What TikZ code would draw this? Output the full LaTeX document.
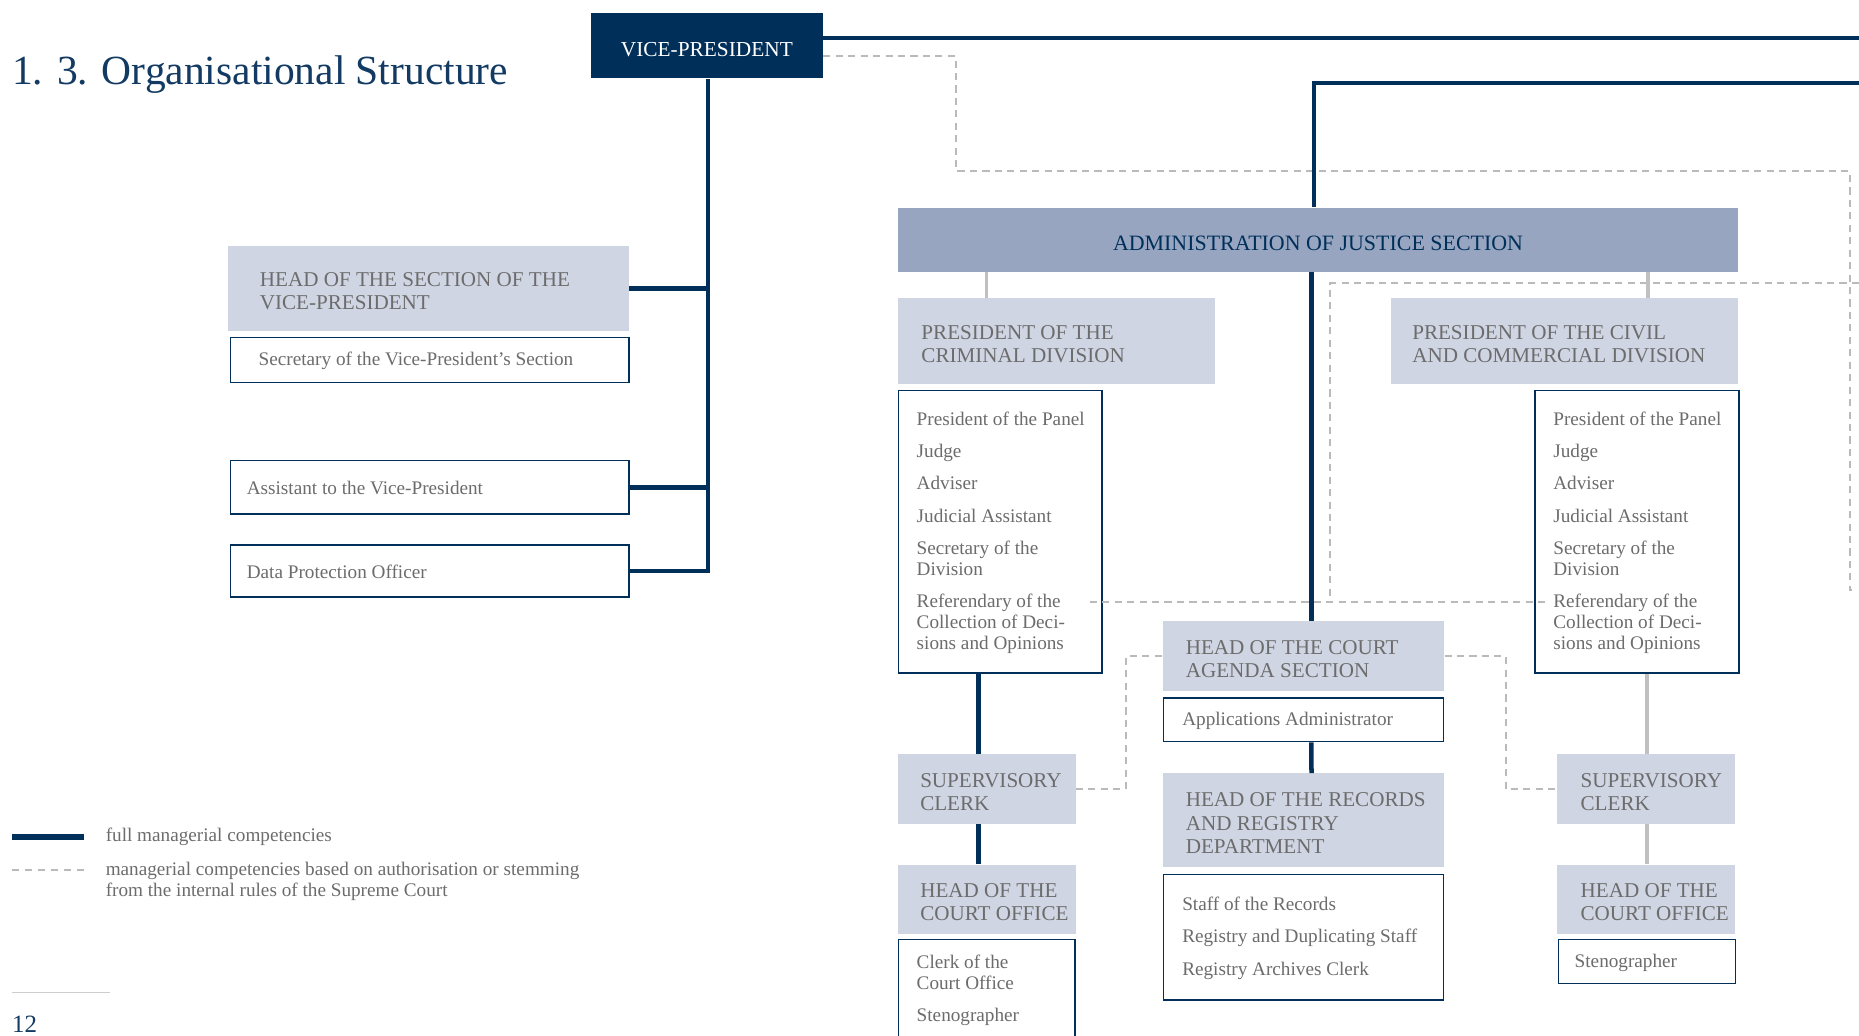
\documentclass[tikz,border=0pt]{standalone}
\usepackage{fontspec}
\setmainfont{Liberation Serif}
\definecolor{navy}{RGB}{0,48,89}
\definecolor{titleblue}{RGB}{18,58,98}
\definecolor{lightfill}{RGB}{207,213,227}
\definecolor{adminfill}{RGB}{151,165,193}
\definecolor{txtgray}{RGB}{108,108,108}
\definecolor{dashgray}{RGB}{186,186,186}
\definecolor{congray}{RGB}{192,192,192}
\definecolor{rulegray}{RGB}{205,205,205}
\begin{document}
\begin{tikzpicture}[x=1pt,y=-1pt,
  navyline/.style={draw=navy,line width=3.8pt},
  graycon/.style={draw=congray,line width=3pt},
  dashcon/.style={draw=dashgray,line width=1.7pt,dash pattern=on 6pt off 4.5pt},
  hdrbox/.style={fill=lightfill,draw=none,anchor=north west,inner sep=0pt},
  lstbox/.style={fill=white,draw=navy,line width=1.2pt,anchor=north west,inner sep=0pt},
  hdrtxt/.style={text=txtgray,font=\fontsize{17.8}{19.5}\selectfont,align=left,inner sep=0pt,anchor=west,yshift=-2.5pt},
  lsttxt/.style={text=txtgray,font=\fontsize{16.2}{17.7}\selectfont,align=left,inner sep=0pt,anchor=west,yshift=-0.8pt},
]
\useasboundingbox (0,0) rectangle (1568,873);

% title
\node[anchor=base west,inner sep=0pt,text=titleblue,font=\fontsize{35}{40}\selectfont] (title) at (10,71) {1. 3. Organisational Structure};

% vice-president
\node[fill=navy,anchor=north west,minimum width=196pt,minimum height=55pt,inner sep=0pt,text=white,font=\fontsize{18}{20}\selectfont] (vp) at (498,11) {\raisebox{-3pt}[\height][\depth]{VICE-PRESIDENT}};

% left branch
\node[hdrbox,minimum width=338pt,minimum height=72pt] (hsec) at (192,207) {};
\node[hdrtxt] (hsecT) at ([xshift=27pt]hsec.west) {HEAD OF THE SECTION OF THE\\VICE-PRESIDENT};
\node[lstbox,minimum width=336pt,minimum height=38pt] (sec) at (194,284) {};
\node[lsttxt] (secT) at ([xshift=24pt]sec.west) {Secretary of the Vice-President’s Section};
\node[lstbox,minimum width=336pt,minimum height=45pt] (asst) at (194,388) {};
\node[lsttxt] (asstT) at ([xshift=14pt]asst.west) {Assistant to the Vice-President};
\node[lstbox,minimum width=336pt,minimum height=44pt] (dpo) at (194,459) {};
\node[lsttxt] (dpoT) at ([xshift=14pt]dpo.west) {Data Protection Officer};

% administration
\node[fill=adminfill,anchor=north west,minimum width=709pt,minimum height=54pt,inner sep=0pt,text=navy,font=\fontsize{18.5}{21}\selectfont] (admin) at (757,175) {\raisebox{-3pt}[\height][\depth]{ADMINISTRATION OF JUSTICE SECTION}};

% criminal division
\node[hdrbox,minimum width=268pt,minimum height=73pt] (crim) at (757,251) {};
\node[hdrtxt] (crimT) at ([xshift=20pt]crim.west) {PRESIDENT OF THE\\CRIMINAL DIVISION};
\node[lstbox,minimum width=172pt,minimum height=238pt] (crimL) at (757,329) {};
\node[lsttxt] (crimLT) at ([xshift=16pt]crimL.west) {President of the Panel\\[9.6pt]Judge\\[9.6pt]Adviser\\[9.6pt]Judicial Assistant\\[9.6pt]Secretary of the\\Division\\[9.6pt]Referendary of the\\Collection of Deci-\\sions and Opinions};

% civil division
\node[hdrbox,minimum width=293pt,minimum height=73pt] (civ) at (1173,251) {};
\node[hdrtxt] (civT) at ([xshift=18pt]civ.west) {PRESIDENT OF THE CIVIL\\AND COMMERCIAL DIVISION};
\node[lstbox,minimum width=172pt,minimum height=238pt] (civL) at (1294,329) {};
\node[lsttxt] (civLT) at ([xshift=16pt]civL.west) {President of the Panel\\[9.6pt]Judge\\[9.6pt]Adviser\\[9.6pt]Judicial Assistant\\[9.6pt]Secretary of the\\Division\\[9.6pt]Referendary of the\\Collection of Deci-\\sions and Opinions};

% centre column
\node[hdrbox,minimum width=237pt,minimum height=59pt] (agenda) at (981,524) {};
\node[hdrtxt] (agendaT) at ([xshift=19pt]agenda.west) {HEAD OF THE COURT\\AGENDA SECTION};
\node[lstbox,minimum width=236pt,minimum height=37pt] (app) at (981,588) {};
\node[lsttxt] (appT) at ([xshift=16pt]app.west) {Applications Administrator};
\node[hdrbox,minimum width=237pt,minimum height=79pt] (rec) at (981,652) {};
\node[hdrtxt] (recT) at ([xshift=19pt]rec.west) {HEAD OF THE RECORDS\\AND REGISTRY\\DEPARTMENT};
\node[lstbox,minimum width=236pt,minimum height=106pt] (recL) at (981,737) {};
\node[lsttxt] (recLT) at ([xshift=16pt]recL.west) {Staff of the Records\\[9.6pt]Registry and Duplicating Staff\\[9.6pt]Registry Archives Clerk};

% left lower column
\node[hdrbox,minimum width=150pt,minimum height=59pt] (sup1) at (757,636) {};
\node[hdrtxt] (sup1T) at ([xshift=19pt]sup1.west) {SUPERVISORY\\CLERK};
\node[hdrbox,minimum width=150pt,minimum height=59pt] (hco1) at (757,729) {};
\node[hdrtxt] (hco1T) at ([xshift=19pt]hco1.west) {HEAD OF THE\\COURT OFFICE};
\node[lstbox,minimum width=149pt,minimum height=84pt] (hco1L) at (757,792) {};
\node[lsttxt] (hco1LT) at ([xshift=16pt]hco1L.west) {Clerk of the\\Court Office\\[9.6pt]Stenographer};

% right lower column
\node[hdrbox,minimum width=150pt,minimum height=59pt] (sup2) at (1313,636) {};
\node[hdrtxt] (sup2T) at ([xshift=20pt]sup2.west) {SUPERVISORY\\CLERK};
\node[hdrbox,minimum width=150pt,minimum height=59pt] (hco2) at (1313,729) {};
\node[hdrtxt] (hco2T) at ([xshift=20pt]hco2.west) {HEAD OF THE\\COURT OFFICE};
\node[lstbox,minimum width=149pt,minimum height=37pt] (sten2) at (1314,792) {};
\node[lsttxt] (sten2T) at ([xshift=14pt]sten2.west) {Stenographer};

% free-end coordinates
\coordinate (r1) at (1568,32);
\coordinate (r2) at (1568,70);
\coordinate (dA) at (806,144);
\coordinate (dB) at (1560,144);
\coordinate (dC) at (1560,498);
\coordinate (dD) at (1566,498);
\coordinate (eR) at (1568,239);
\coordinate (eJ) at (1122,239);
\coordinate (c1) at ([xshift=-59pt]crim.north);
\coordinate (c2) at ([xshift=70.5pt]civ.north);
\coordinate (c3) at ([xshift=-7pt]sup1.north);
\coordinate (c4) at ([xshift=-7pt]hco1.north);
\coordinate (c5) at ([xshift=1pt]sup2.north);
\coordinate (c6) at ([xshift=1pt]hco2.north);
\coordinate (ref1) at ([xshift=-11pt,yshift=-59pt]crimL.east);
\coordinate (ref2) at ([xshift=10pt,yshift=-59pt]civL.west);
\coordinate (d0) at ([yshift=-8.5pt]vp.east);

% dashed connectors (drawn first, under solid ones)
\draw[dashcon] (d0) -| (dA) -- (dB) -- (dC) -- (dD);
\draw[dashcon] (eR) -- (eJ) -- (eJ |- ref1);
\draw[dashcon] (ref1) -- (ref2);
\draw[dashcon] (sup1.east) -- ++(42,0) |- (agenda.west);
\draw[dashcon] (agenda.east) -- ++(52,0) |- (sup2.west);

% solid navy connectors
\draw[navyline] (vp.east |- r1) -- (r1);
\draw[navyline] (r2) -| ([xshift=-3.5pt]admin.north);
\draw[navyline] ([xshift=-5.5pt]admin.south) -- ([xshift=6.5pt]agenda.north);
\draw[navyline] ([xshift=1pt]vp.south) |- (dpo.east);
\draw[navyline] (hsec.east) -- (hsec.east -| vp.south);
\draw[navyline] (asst.east) -- (asst.east -| vp.south);
\draw[navyline] (c3 |- crimL.south) -- (c3);
\draw[navyline] (c4 |- sup1.south) -- (c4);
\draw[navyline] ([xshift=6.5pt]app.south) -- ([xshift=6.5pt]rec.north);

% solid gray connectors
\draw[graycon] (c1 |- admin.south) -- (c1);
\draw[graycon] (c2 |- admin.south) -- (c2);
\draw[graycon] (c5 |- civL.south) -- (c5);
\draw[graycon] (c6 |- sup2.south) -- (c6);

% legend
\coordinate (l1a) at (10,706);
\coordinate (l1b) at (71,706);
\coordinate (l2a) at (10,734);
\coordinate (l2b) at (71,734);
\draw[draw=navy,line width=4.5pt] (l1a) -- (l1b);
\node[lsttxt] (leg1) at (89,705) {full managerial competencies};
\draw[draw=dashgray,line width=1.6pt,dash pattern=on 6pt off 5pt] (l2a) -- (l2b);
\node[lsttxt] (leg2) at (89,743) {managerial competencies based on authorisation or stemming\\from the internal rules of the Supreme Court};

% footer
\coordinate (fa) at (10,837);
\coordinate (fb) at (93,837);
\draw[draw=rulegray,line width=0.9pt] (fa) -- (fb);
\node[anchor=base west,inner sep=0pt,text=titleblue,font=\fontsize{21}{24}\selectfont] (pageno) at (10,871) {12};
\end{tikzpicture}
\end{document}
